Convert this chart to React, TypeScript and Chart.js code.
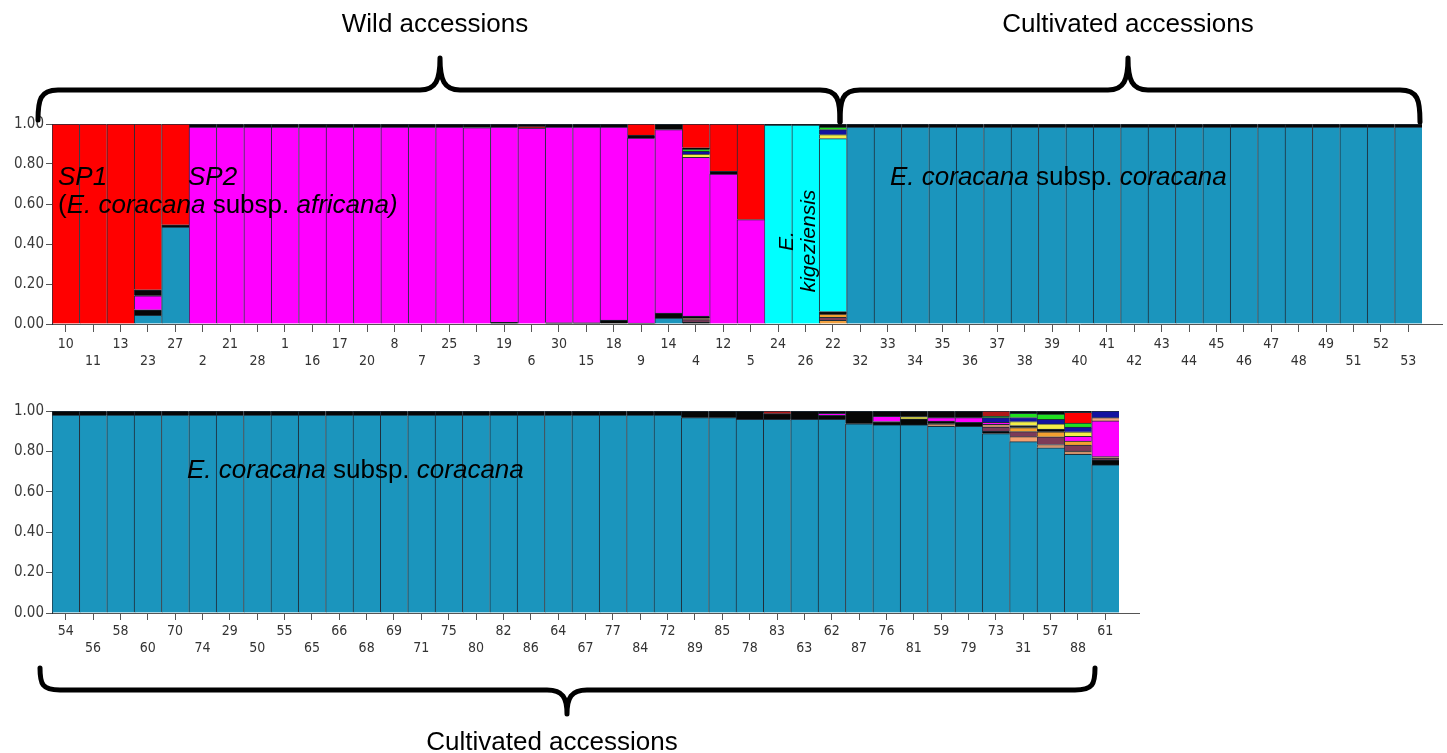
import React, { useEffect, useRef } from 'react';
import { Chart, registerables } from 'chart.js';

Chart.register(...registerables);

// ---------------- DATA ----------------
const topLabels = ['10','11','13','23','27','2','21','28','1','16','17','20','8','7','25','3','19','6','30','15','18','9','14','4','12','5','24','26','22','32','33','34','35','36','37','38','39','40','41','42','43','44','45','46','47','48','49','51','52','53'];
const bottomLabels = ['54','56','58','60','70','74','29','50','55','65','66','68','69','71','75','80','82','86','64','67','77','84','72','89','85','78','83','63','62','87','76','81','59','79','73','31','57','88','61'];

const yTickValues = [0, 0.2, 0.4, 0.6, 0.8, 1.0];

// Top panel membership coefficients (stack order bottom -> top)
const topTeal = [0,0,0,0.043,0.484,0,0,0,0,0, 0,0,0,0,0,0,0,0,0,0, 0,0,0.03,0,0,0,0,0,0,0.985, 0.985,0.985,0.985,0.985,0.985,0.985,0.985,0.985,0.985,0.985, 0.985,0.985,0.985,0.985,0.985,0.985,0.985,0.985,0.985,0.985];
const topOrangeLow = [0,0,0,0,0,0,0,0,0,0, 0,0,0,0,0,0,0,0,0,0, 0,0,0,0,0,0,0,0,0.018,0, 0,0,0,0,0,0,0,0,0,0, 0,0,0,0,0,0,0,0,0,0];
const topBlackA = [0,0,0,0.028,0.012,0,0,0,0,0, 0,0,0,0,0,0,0.008,0,0.006,0.006, 0.02,0.005,0.025,0.01,0,0,0,0,0,0, 0,0,0,0,0,0,0,0,0,0, 0,0,0,0,0,0,0,0,0,0];
const topMauve = [0,0,0,0,0,0,0,0,0,0, 0,0,0,0,0,0,0,0,0,0, 0,0,0,0.012,0,0,0,0,0.015,0, 0,0,0,0,0,0,0,0,0,0, 0,0,0,0,0,0,0,0,0,0];
const topTanB = [0,0,0,0,0,0,0,0,0,0, 0,0,0,0,0,0,0,0,0,0, 0,0,0,0.008,0,0,0,0,0,0, 0,0,0,0,0,0,0,0,0,0, 0,0,0,0,0,0,0,0,0,0];
const topOrange = [0,0,0,0,0,0,0,0,0,0, 0,0,0,0,0,0,0,0,0,0, 0,0,0,0,0,0,0,0,0.017,0, 0,0,0,0,0,0,0,0,0,0, 0,0,0,0,0,0,0,0,0,0];
const topBlackB = [0,0,0,0,0,0,0,0,0,0, 0,0,0,0,0,0,0,0,0,0, 0,0,0,0.01,0,0,0,0,0.012,0, 0,0,0,0,0,0,0,0,0,0, 0,0,0,0,0,0,0,0,0,0];
const topMagenta = [0,0,0,0.07,0,0.985,0.985,0.985,0.985,0.985, 0.985,0.985,0.985,0.985,0.985,0.982,0.977,0.98,0.979,0.979, 0.965,0.925,0.917,0.793,0.75,0.522,0,0,0,0, 0,0,0,0,0,0,0,0,0,0, 0,0,0,0,0,0,0,0,0,0];
const topBlackC = [0,0,0,0.03,0,0,0,0,0,0, 0,0,0,0,0,0,0,0,0,0, 0,0.015,0,0,0.013,0,0,0,0,0, 0,0,0,0,0,0,0,0,0,0, 0,0,0,0,0,0,0,0,0,0];
const topCyan = [0,0,0,0,0,0,0,0,0,0, 0,0,0,0,0,0,0,0,0,0, 0,0,0,0,0,0,0.995,0.995,0.865,0, 0,0,0,0,0,0,0,0,0,0, 0,0,0,0,0,0,0,0,0,0];
const topYellow = [0,0,0,0,0,0,0,0,0,0, 0,0,0,0,0,0,0,0,0,0, 0,0,0,0.017,0,0,0,0,0.02,0, 0,0,0,0,0,0,0,0,0,0, 0,0,0,0,0,0,0,0,0,0];
const topNavy = [0,0,0,0,0,0,0,0,0,0, 0,0,0,0,0,0,0,0,0,0, 0,0,0,0.013,0,0,0,0,0.025,0, 0,0,0,0,0,0,0,0,0,0, 0,0,0,0,0,0,0,0,0,0];
const topGreen = [0,0,0,0,0,0,0,0,0,0, 0,0,0,0,0,0,0,0,0,0, 0,0,0,0.012,0,0,0,0,0.013,0, 0,0,0,0,0,0,0,0,0,0, 0,0,0,0,0,0,0,0,0,0];
const topBlackD = [0,0,0,0,0,0,0,0,0,0, 0,0,0,0,0,0,0,0,0,0, 0,0,0,0.006,0,0,0,0,0,0, 0,0,0,0,0,0,0,0,0,0, 0,0,0,0,0,0,0,0,0,0];
const topDarkred = [0,0,0,0,0,0,0,0,0,0, 0,0,0,0,0,0,0,0.01,0,0, 0,0,0,0,0,0,0,0,0,0, 0,0,0,0,0,0,0,0,0,0, 0,0,0,0,0,0,0,0,0,0];
const topRed = [1,1,1,0.829,0.504,0,0,0,0,0, 0,0,0,0,0,0,0,0,0,0, 0,0.055,0,0.119,0.237,0.478,0,0,0,0, 0,0,0,0,0,0,0,0,0,0, 0,0,0,0,0,0,0,0,0,0];
const topBlackTop = [0,0,0,0,0,0.015,0.015,0.015,0.015,0.015, 0.015,0.015,0.015,0.015,0.015,0.018,0.015,0.01,0.015,0.015, 0.015,0,0.028,0,0,0,0.005,0.005,0.015,0.015, 0.015,0.015,0.015,0.015,0.015,0.015,0.015,0.015,0.015,0.015, 0.015,0.015,0.015,0.015,0.015,0.015,0.015,0.015,0.015,0.015];

// Bottom panel membership coefficients
const botTeal = [0.98,0.98,0.98,0.98,0.98,0.98,0.98,0.98,0.98,0.98, 0.98,0.98,0.98,0.98,0.98,0.98,0.98,0.98,0.98,0.98, 0.98,0.98,0.98,0.967,0.967,0.959,0.959,0.959,0.959,0.937, 0.931,0.931,0.924,0.924,0.888,0.848,0.818,0.785,0.733];
const botSalmonLow = [0,0,0,0,0,0,0,0,0,0, 0,0,0,0,0,0,0,0,0,0, 0,0,0,0,0,0,0,0,0,0, 0,0,0,0,0,0.025,0,0,0];
const botTanLow = [0,0,0,0,0,0,0,0,0,0, 0,0,0,0,0,0,0,0,0,0, 0,0,0,0,0,0,0,0,0,0, 0,0,0.013,0,0,0,0.016,0.016,0];
const botBlackA = [0,0,0,0,0,0,0,0,0,0, 0,0,0,0,0,0,0,0,0,0, 0,0,0,0,0,0,0.028,0,0.02,0, 0.017,0.03,0.013,0.02,0.013,0,0,0,0.025];
const botMauve = [0,0,0,0,0,0,0,0,0,0, 0,0,0,0,0,0,0,0,0,0, 0,0,0,0,0,0,0,0,0,0, 0,0,0,0,0.02,0.025,0.038,0.03,0.008];
const botTanB = [0,0,0,0,0,0,0,0,0,0, 0,0,0,0,0,0,0,0,0,0, 0,0,0,0,0,0,0,0,0,0, 0,0,0,0,0.013,0,0,0,0.008];
const botOrange = [0,0,0,0,0,0,0,0,0,0, 0,0,0,0,0,0,0,0,0,0, 0,0,0,0,0,0,0,0,0,0, 0,0,0,0,0,0.02,0.025,0.02,0];
const botBlackB = [0,0,0,0,0,0,0,0,0,0, 0,0,0,0,0,0,0,0,0,0, 0,0,0,0,0,0,0,0,0,0, 0,0,0,0,0,0.01,0.013,0,0];
const botMagenta = [0,0,0,0,0,0,0,0,0,0, 0,0,0,0,0,0,0,0,0,0, 0,0,0,0,0,0,0,0,0.01,0, 0.025,0,0.017,0.023,0.01,0,0,0.023,0.177];
const botBlackC = [0,0,0,0,0,0,0,0,0,0, 0,0,0,0,0,0,0,0,0,0, 0,0,0,0,0,0,0,0,0.011,0, 0.027,0,0.033,0.033,0,0,0,0,0];
const botSalmonHigh = [0,0,0,0,0,0,0,0,0,0, 0,0,0,0,0,0,0,0,0,0, 0,0,0,0,0,0,0,0,0,0, 0,0,0,0,0,0,0,0,0.016];
const botYellow = [0,0,0,0,0,0,0,0,0,0, 0,0,0,0,0,0,0,0,0,0, 0,0,0,0,0,0,0,0,0,0, 0,0.011,0,0,0,0.02,0.026,0.023,0];
const botNavy = [0,0,0,0,0,0,0,0,0,0, 0,0,0,0,0,0,0,0,0,0, 0,0,0,0,0,0,0,0,0,0, 0,0,0,0,0.023,0.02,0.023,0.023,0.033];
const botGreen = [0,0,0,0,0,0,0,0,0,0, 0,0,0,0,0,0,0,0,0,0, 0,0,0,0,0,0,0,0,0,0, 0,0,0,0,0.007,0.02,0.026,0.02,0];
const botDarkred = [0,0,0,0,0,0,0,0,0,0, 0,0,0,0,0,0,0,0,0,0, 0,0,0,0,0,0,0.013,0,0,0, 0,0,0,0,0.026,0,0,0,0];
const botRed = [0,0,0,0,0,0,0,0,0,0, 0,0,0,0,0,0,0,0,0,0, 0,0,0,0,0,0,0,0,0,0, 0,0,0,0,0,0,0,0.053,0];
const botBlackTop = [0.02,0.02,0.02,0.02,0.02,0.02,0.02,0.02,0.02,0.02, 0.02,0.02,0.02,0.02,0.02,0.02,0.02,0.02,0.02,0.02, 0.02,0.02,0.02,0.033,0.033,0.041,0,0.041,0,0.063, 0,0.028,0,0,0,0.012,0.015,0.007,0];

// ---------------- STYLE ----------------
const CLUSTER_ORDER = ['teal','orangeLow','salmonLow','tanLow','blackA','mauve','tanB','orange','blackB','magenta','blackC','cyan','salmonHigh','yellow','navy','green','blackD','darkred','red','blackTop'];
const CLUSTER_COLORS: Record<string, string> = {
  teal: '#1b95bd', orangeLow: '#f0a040', salmonLow: '#f4a070', tanLow: '#d0906a',
  blackA: '#060606', mauve: '#7c3a58', tanB: '#c8906e', orange: '#f2a030', blackB: '#060606',
  magenta: '#ff00ff', blackC: '#060606', cyan: '#00ffff', salmonHigh: '#f0a080', yellow: '#f4ee48',
  navy: '#1212a0', green: '#20e020', blackD: '#060606', darkred: '#b01818', red: '#ff0000', blackTop: '#060606',
};
const SEP = '#1f2d3a';
const AXIS_FONT = "'Liberation Sans Narrow', 'DejaVu Sans Condensed', 'Arial Narrow', Arial, sans-serif";
const TEXT_FONT = "'Liberation Sans', Arial, Helvetica, sans-serif";

const topSeries: Record<string, number[]> = {
  teal: topTeal, orangeLow: topOrangeLow, blackA: topBlackA, mauve: topMauve, tanB: topTanB, orange: topOrange,
  blackB: topBlackB, magenta: topMagenta, blackC: topBlackC, cyan: topCyan, yellow: topYellow, navy: topNavy,
  green: topGreen, blackD: topBlackD, darkred: topDarkred, red: topRed, blackTop: topBlackTop,
};
const bottomSeries: Record<string, number[]> = {
  teal: botTeal, salmonLow: botSalmonLow, tanLow: botTanLow, blackA: botBlackA, mauve: botMauve, tanB: botTanB,
  orange: botOrange, blackB: botBlackB, magenta: botMagenta, blackC: botBlackC, salmonHigh: botSalmonHigh,
  yellow: botYellow, navy: botNavy, green: botGreen, darkred: botDarkred, red: botRed, blackTop: botBlackTop,
};

const axisExtend = {
  id: 'axisExtend',
  afterDraw(chart: any, _args: any, opts: any) {
    const { ctx, chartArea } = chart;
    ctx.save();
    ctx.strokeStyle = '#555';
    ctx.lineWidth = 1;
    ctx.beginPath();
    ctx.moveTo(chartArea.right, chartArea.bottom + 0.5);
    ctx.lineTo(chartArea.right + (opts.extend || 0), chartArea.bottom + 0.5);
    ctx.stroke();
    ctx.restore();
  },
};

type PanelProps = {
  labels: string[];
  series: Record<string, number[]>;
  top: number;
  height: number;
  padTop: number;
  padRight: number;
  axisHeight: number;
  tickLength: number;
  tickPadding: number;
  extend: number;
};

function Panel(p: PanelProps) {
  const ref = useRef<HTMLCanvasElement | null>(null);
  useEffect(() => {
    if (!ref.current) return;
    const datasets = CLUSTER_ORDER.filter((k) => p.series[k]).map((k) => ({
      label: k,
      data: p.series[k],
      backgroundColor: CLUSTER_COLORS[k],
      borderColor: SEP,
      borderWidth: { top: 1, left: 1, right: 0, bottom: 0 },
      borderSkipped: false as const,
      barPercentage: 1,
      categoryPercentage: 1,
      stack: 's',
    }));
    const chart = new Chart(ref.current, {
      type: 'bar',
      data: { labels: p.labels, datasets },
      plugins: [axisExtend as any],
      options: {
        animation: false,
        responsive: false,
        devicePixelRatio: 1,
        events: [],
        layout: { padding: { top: p.padTop, right: p.padRight, left: 0, bottom: 0 } },
        plugins: {
          legend: { display: false },
          tooltip: { enabled: false },
          axisExtend: { extend: p.extend },
        } as any,
        scales: {
          x: {
            stacked: true,
            afterFit: (s: any) => { s.height = p.axisHeight; },
            grid: { display: true, drawOnChartArea: false, drawTicks: true, tickLength: p.tickLength, color: '#555', offset: false },
            border: { display: true, color: '#555', width: 1 },
            ticks: {
              autoSkip: false,
              maxRotation: 0,
              minRotation: 0,
              padding: p.tickPadding,
              color: '#333',
              font: { family: AXIS_FONT, size: 14 },
              callback: (_v: any, i: number) => (i % 2 === 0 ? [p.labels[i], ''] : ['', p.labels[i]]),
            },
          },
          y: {
            stacked: true,
            min: 0,
            max: 1,
            afterFit: (s: any) => { s.width = 52; },
            afterBuildTicks: (s: any) => { s.ticks = yTickValues.map((v) => ({ value: v })); },
            grid: { display: true, drawOnChartArea: false, drawTicks: true, tickLength: 6, color: '#555' },
            border: { display: true, color: SEP, width: 1 },
            ticks: {
              padding: 2,
              color: '#3a3a3a',
              font: { family: AXIS_FONT, size: 15 },
              callback: (v: any) => Number(v).toFixed(2),
            },
          },
        },
      },
    });
    return () => chart.destroy();
  }, []);
  return (
    <canvas
      ref={ref}
      width={1447}
      height={p.height}
      style={{ position: 'absolute', left: 0, top: p.top, width: 1447, height: p.height }}
    />
  );
}

const txt = (left: number, top: number, extra: React.CSSProperties = {}): React.CSSProperties => ({
  position: 'absolute', left, top, fontFamily: TEXT_FONT, fontSize: 26, lineHeight: '26px',
  color: '#000', whiteSpace: 'nowrap', ...extra,
});

export default function App() {
  useEffect(() => { document.body.style.margin = '0'; }, []);
  return (
    <div style={{ position: 'absolute', left: 0, top: 0, width: 1447, height: 753, overflow: 'hidden', background: '#fff' }}>
      <Panel labels={topLabels} series={topSeries} top={110} height={270} padTop={14} padRight={25} axisHeight={56} tickLength={8} tickPadding={4} extend={21} />
      <Panel labels={bottomLabels} series={bottomSeries} top={400} height={270} padTop={11} padRight={328} axisHeight={57} tickLength={7} tickPadding={3} extend={21} />

      <svg width={1447} height={753} style={{ position: 'absolute', left: 0, top: 0, pointerEvents: 'none' }}>
        <g fill="none" stroke="#000" strokeWidth={5} strokeLinecap="round" strokeLinejoin="round">
          <path d="M38,120 C38,100 40,90 58,90 L420,90 C436,90 440,80 440,58 C440,80 444,90 460,90 L820,90 C838,90 840,100 840,122" />
          <path d="M840,122 C840,100 842,90 860,90 L1108,90 C1124,90 1128,80 1128,58 C1128,80 1132,90 1148,90 L1400,90 C1418,90 1420,100 1420,122" />
          <path d="M40,668 C40,684 42,690 60,690 L547,690 C563,690 567,698 567,714 C567,698 571,690 587,690 L1075,690 C1093,690 1095,684 1095,668" />
        </g>
      </svg>

      <div style={txt(0, 10, { width: 870, textAlign: 'center' })}>Wild accessions</div>
      <div style={txt(878, 10, { width: 500, textAlign: 'center' })}>Cultivated accessions</div>
      <div style={txt(302, 728, { width: 500, textAlign: 'center' })}>Cultivated accessions</div>

      <div style={txt(58, 163)}><i>SP1</i></div>
      <div style={txt(188, 163)}><i>SP2</i></div>
      <div style={txt(58, 191)}>(<i>E. coracana</i> subsp. <i>africana)</i></div>
      <div style={txt(890, 163)}><i>E. coracana</i> subsp. <i>coracana</i></div>
      <div style={txt(187, 456)}><i>E. coracana</i> subsp. <i>coracana</i></div>

      <div
        style={{
          position: 'absolute', left: 797, top: 241, transform: 'translate(-50%, -50%) rotate(-90deg)',
          fontFamily: TEXT_FONT, fontSize: 21, lineHeight: '22px', fontStyle: 'italic', textAlign: 'center',
          whiteSpace: 'nowrap', color: '#000',
        }}
      >
        E.<br />kigeziensis
      </div>
    </div>
  );
}
